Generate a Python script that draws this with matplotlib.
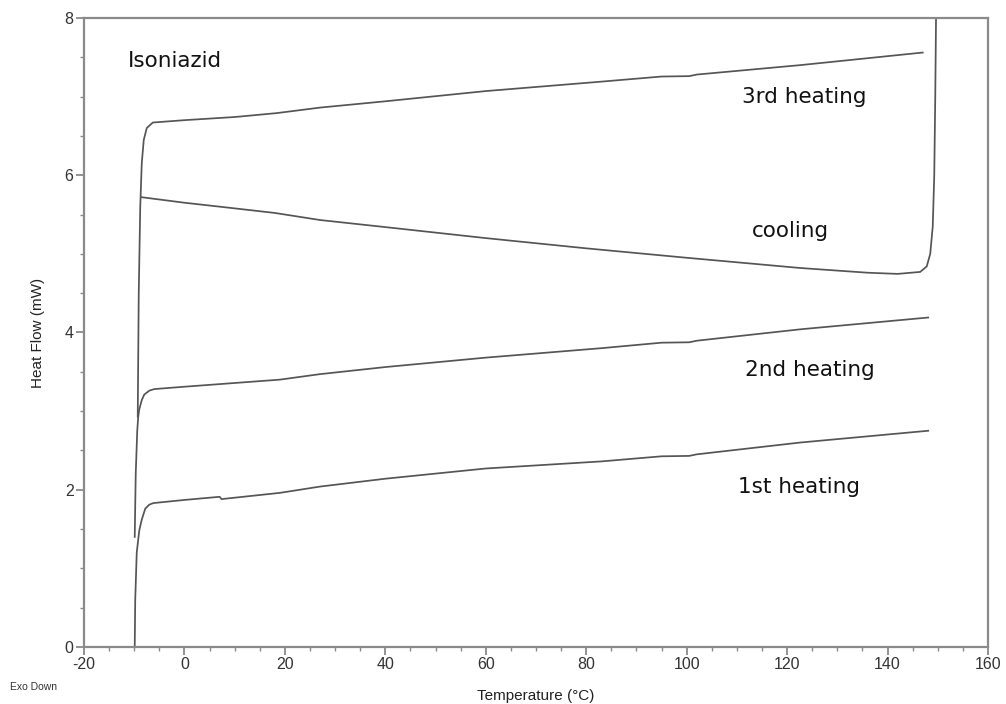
import numpy as np
import matplotlib
matplotlib.use("Agg")
import matplotlib.pyplot as plt

plt.rcParams["axes.unicode_minus"] = False

# DSC thermogram of isoniazid
heat1_t = [-9.9, -9.8, -9.5, -9.0, -8.5, -7.8, -7.0, -6.2, 0, 7.0, 7.4, 8.0, 19, 27, 40, 60, 83, 95, 100.5, 102, 122.6, 148.1]
heat1_q = [0.0, 0.6, 1.2, 1.48, 1.62, 1.76, 1.81, 1.83, 1.87, 1.91, 1.88, 1.885, 1.96, 2.04, 2.14, 2.27, 2.36, 2.425, 2.43, 2.45, 2.60, 2.75]

heat2_t = [-9.9, -9.7, -9.4, -9.2, -9.0, -8.5, -8.0, -7.0, -6.0, 0, 19, 27, 40, 60, 83, 95, 100.5, 102, 122.6, 148.1]
heat2_q = [1.40, 2.2, 2.75, 2.93, 3.02, 3.14, 3.21, 3.26, 3.28, 3.31, 3.40, 3.47, 3.56, 3.68, 3.80, 3.87, 3.875, 3.895, 4.04, 4.19]

cool_t = [149.7, 149.5, 149.3, 149.0, 148.5, 147.8, 146.5, 142, 136, 122.6, 100, 80, 60, 40, 27, 18, 7, 0, -8.5]
cool_q = [8.3, 7.0, 6.0, 5.35, 5.0, 4.84, 4.77, 4.745, 4.76, 4.82, 4.95, 5.07, 5.20, 5.34, 5.43, 5.52, 5.60, 5.65, 5.72]

heat3_t = [-9.3, -9.1, -8.8, -8.5, -8.1, -7.5, -6.3, 0, 10, 18.4, 27, 40, 60, 83, 95, 100.5, 102, 122.6, 147.0]
heat3_q = [2.93, 4.5, 5.6, 6.15, 6.45, 6.6, 6.67, 6.70, 6.74, 6.79, 6.86, 6.94, 7.07, 7.19, 7.255, 7.26, 7.28, 7.40, 7.56]

labels = ["Isoniazid", "3rd heating", "cooling", "2nd heating", "1st heating"]
label_t = [-11.2, 111.0, 113.0, 111.6, 110.2]
label_q = [7.38, 6.92, 5.22, 3.45, 1.96]

fig = plt.figure(figsize=(10.06, 7.04), dpi=100)
ax = fig.add_axes([0.0835, 0.081, 0.8986, 0.8935])

line_kw = dict(color="#555555", lw=1.25)
for t, q in [(heat1_t, heat1_q), (heat2_t, heat2_q), (cool_t, cool_q), (heat3_t, heat3_q)]:
    ax.plot(t, q, **line_kw)

for txt, t, q in zip(labels, label_t, label_q):
    ax.text(t, q, txt, fontsize=15.5, family="DejaVu Sans", color="#111111",
            ha="left", va="baseline")

ax.set_xlim(-20, 160)
ax.set_ylim(0, 8)
ax.set_xticks(np.arange(-20, 161, 20))
ax.set_yticks(np.arange(0, 9, 2))
ax.set_xticks(np.arange(-20, 161, 5), minor=True)
ax.set_yticks(np.arange(0, 8.1, 0.5), minor=True)

for s in ax.spines.values():
    s.set_color("#8a8a8a")
    s.set_linewidth(1.6)
ax.tick_params(which="major", direction="out", length=6, width=1.3, color="#8a8a8a",
               labelsize=11.5, labelcolor="#333333", pad=1.5)
ax.tick_params(which="minor", direction="out", length=3, width=1.0, color="#8a8a8a")
for lab in ax.get_xticklabels() + ax.get_yticklabels():
    lab.set_family("Liberation Sans")

ax.set_xlabel("Temperature (°C)", family="Liberation Sans", fontsize=11, color="#222222", labelpad=12)
ax.set_ylabel("Heat Flow (mW)", family="Liberation Sans", fontsize=11, color="#222222", labelpad=14)
fig.text(0.01, 0.02, "Exo Down", family="Liberation Sans", fontsize=7.5, color="#333333")

fig.savefig("out.png", dpi=100)
